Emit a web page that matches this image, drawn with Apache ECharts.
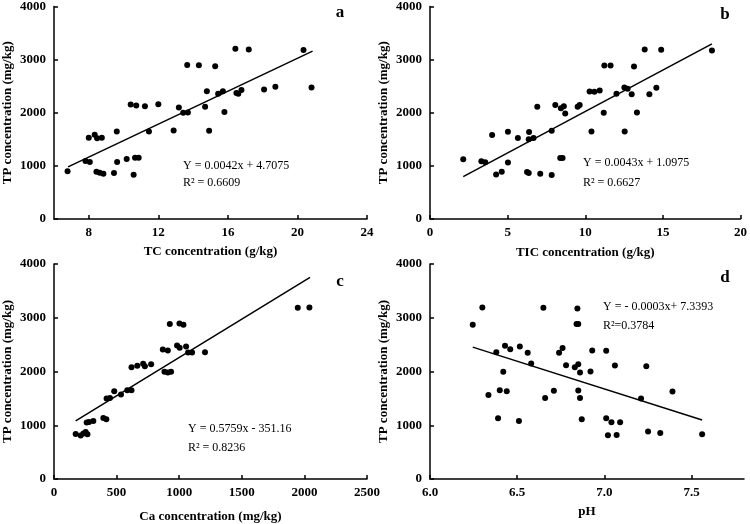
<!DOCTYPE html>
<html>
<head>
<meta charset="utf-8">
<script src="https://cdn.jsdelivr.net/npm/echarts@6/dist/echarts.min.js"></script>
<style>html,body{margin:0;padding:0;background:#fff}#c{width:750px;height:524px}</style>
</head>
<body>
<div id="c"></div>
<script>
// ---- Panel a: TC vs TP ----
const tcA = [6.78,7.81,8.06,8.0,8.34,8.48,8.75,8.44,8.63,8.84,9.45,9.63,9.61,10.18,10.58,10.66,10.87,10.41,10.73,11.23,11.46,12.0,12.88,13.18,13.43,13.70,13.66,14.33,14.69,14.79,14.92,15.27,15.44,15.71,15.80,16.43,16.49,16.60,16.78,17.20,18.08,18.73,20.35,20.81];
const tpA = [901,1093,1074,1531,1586,1519,1531,889,870,852,864,1074,1648,1130,833,1154,1154,2154,2136,2123,1648,2160,1667,2099,2000,2006,2901,2895,2111,2407,1660,2877,2358,2407,2012,3204,2370,2358,2426,3191,2438,2488,3179,2475];
const fitA = [[6.81, 981], [20.87, 3160]];
// ---- Panel b: TIC vs TP ----
const ticB = [2.14,3.31,3.56,4.0,4.26,4.62,5.02,5.02,5.66,6.25,6.36,6.38,6.36,6.67,6.91,7.10,7.84,7.84,8.07,8.39,8.54,8.43,8.62,8.71,9.51,9.64,10.28,10.40,10.59,10.93,11.19,11.23,11.63,12.01,12.52,12.54,12.73,12.99,13.14,13.33,13.83,14.13,14.58,14.89,18.16];
const tpB = [1123,1086,1068,1580,840,889,1642,1062,1525,883,864,1636,1500,1525,2111,852,1660,827,2148,1148,1148,2086,2123,1988,2111,2148,2401,1648,2395,2420,2000,2889,2889,2358,2475,1648,2451,2346,2870,2006,3191,2346,2469,3185,3173];
const fitB = [[2.14, 796], [18.16, 3296]];
// ---- Panel c: Ca vs TP ----
const caC = [173,213,235,253,267,261,280,314,394,418,420,447,481,535,585,619,619,665,712,726,776,869,909,882,909,935,925,1002,1034,983,1004,1055,1071,1103,1206,1947,2040];
const tpC = [839,807,845,876,832,1050,1062,1081,1137,1112,1497,1509,1634,1571,1652,1652,2081,2106,2143,2099,2137,2410,2391,1994,1981,1994,2882,2894,2870,2484,2441,2466,2354,2354,2360,3186,3193];
const fitC = [[173, 1081], [2045, 3752]];
// ---- Panel d: pH vs TP ----
const phD = [6.245,6.30,6.335,6.38,6.39,6.40,6.42,6.43,6.44,6.46,6.51,6.515,6.56,6.58,6.65,6.66,6.71,6.74,6.76,6.78,6.83,6.845,6.84,6.85,6.85,6.85,6.86,6.86,6.87,6.92,6.93,7.01,7.01,7.02,7.04,7.06,7.07,7.09,7.21,7.24,7.25,7.32,7.39,7.56];
const tpD = [2870,3193,1565,2360,1130,1652,1994,2478,1634,2416,1081,2466,2348,2149,3186,1509,1640,2348,2435,2118,2081,3174,2882,2882,2137,1646,1981,1509,1112,2000,2391,2385,1130,814,1056,2112,820,1056,1497,2099,882,857,1627,832];
const fitD = [[6.245, 2453], [7.56, 1099]];

// ---- tick labels ----
const xTicksA = [8, 12, 16, 20, 24];
const xTicksB = [0, 5, 10, 15, 20];
const xTicksC = [0, 500, 1000, 1500, 2000, 2500];
const xTicksD = [6.0, 6.5, 7.0, 7.5];
const yTicks = [0, 1000, 2000, 3000, 4000];

const xNames = ['TC concentration (g/kg)', 'TIC concentration (g/kg)', 'Ca concentration (mg/kg)', 'pH'];
const yName = 'TP concentration (mg/kg)';
const panelLetters = ['a', 'b', 'c', 'd'];
const equations = ['Y = 0.0042x + 4.7075', 'Y = 0.0043x + 1.0975', 'Y = 0.5759x - 351.16', 'Y = - 0.0003x+ 7.3393'];
const r2Texts = ['R\u00b2 = 0.6609', 'R\u00b2 = 0.6627', 'R\u00b2 = 0.8236', 'R\u00b2=0.3784'];

const FONT = "'Liberation Serif', 'Times New Roman', serif";
const pair = (xs, ys) => xs.map((v, i) => [v, ys[i]]);

const grids = [
  {left: 54, top: 5, width: 313, height: 214},
  {left: 430, top: 5, width: 313.5, height: 214},
  {left: 54, top: 264, width: 313, height: 215},
  {left: 430, top: 264, width: 314, height: 215}
];
const xRanges = [
  {min: 6, max: 24, ticks: xTicksA, nameGap: 26, dec: 0},
  {min: 0, max: 20, ticks: xTicksB, nameGap: 27, dec: 0},
  {min: 0, max: 2500, ticks: xTicksC, nameGap: 31, dec: 0},
  {min: 6, max: 7.8, ticks: xTicksD, nameGap: 26, dec: 1}
];
const labelStyle = {color: '#000', fontFamily: FONT, fontWeight: 'bold', fontSize: 13};
const mkAxis = (extra, ticks, dec, margin) => Object.assign({
  type: 'value',
  axisLine: {show: true, onZero: false, lineStyle: {color: '#000', width: 1.5}},
  axisTick: {show: true, inside: true, length: 4, customValues: ticks, lineStyle: {color: '#000', width: 1.5}},
  splitLine: {show: false},
  axisLabel: Object.assign({}, labelStyle, {margin: margin, customValues: ticks,
    formatter: v => Number(v).toFixed(dec)}),
  nameTextStyle: Object.assign({}, labelStyle)
}, extra);

const xAxes = xRanges.map((r, i) => mkAxis({
  gridIndex: i, min: r.min, max: r.max,
  name: xNames[i], nameLocation: 'middle', nameGap: r.nameGap
}, r.ticks, r.dec, 7));
const yAxes = [0, 1, 2, 3].map(i => mkAxis({
  gridIndex: i, min: 0, max: 4000,
  name: yName, nameLocation: 'middle', nameGap: 40, nameRotate: 90
}, yTicks, 0, 8));

const scatterData = [pair(tcA, tpA), pair(ticB, tpB), pair(caC, tpC), pair(phD, tpD)];
const fits = [fitA, fitB, fitC, fitD];
const series = [];
scatterData.forEach((d, i) => {
  series.push({type: 'scatter', xAxisIndex: i, yAxisIndex: i, data: d, symbol: 'circle', symbolSize: 6,
    itemStyle: {color: '#000', opacity: 1}, silent: true, z: 3});
  series.push({type: 'line', xAxisIndex: i, yAxisIndex: i, data: fits[i], showSymbol: false, symbol: 'none',
    lineStyle: {color: '#000', width: 1.5}, silent: true, z: 2});
});

const letterPos = [[340, 13], [725, 15], [340, 282], [725, 278]];
const eqPos = [[183, 166, 183], [583, 163, 183], [188, 429, 448], [603, 307, 326]];
const graphic = [];
panelLetters.forEach((t, i) => {
  graphic.push({type: 'text', x: letterPos[i][0], y: letterPos[i][1],
    style: {text: t, font: "bold 17px " + FONT, fill: '#000', align: 'center', verticalAlign: 'middle'}});
  graphic.push({type: 'text', x: eqPos[i][0], y: eqPos[i][1],
    style: {text: equations[i], font: "12px " + FONT, fill: '#000', align: 'left', verticalAlign: 'middle'}});
  graphic.push({type: 'text', x: eqPos[i][0], y: eqPos[i][2],
    style: {text: r2Texts[i], font: "12px " + FONT, fill: '#000', align: 'left', verticalAlign: 'middle'}});
});

const chart = echarts.init(document.getElementById('c'), null, {renderer: 'canvas'});
chart.setOption({
  backgroundColor: '#fff',
  animation: false,
  grid: grids.map(g => Object.assign({containLabel: false}, g)),
  xAxis: xAxes,
  yAxis: yAxes,
  series: series,
  graphic: graphic
});
</script>
</body>
</html>
